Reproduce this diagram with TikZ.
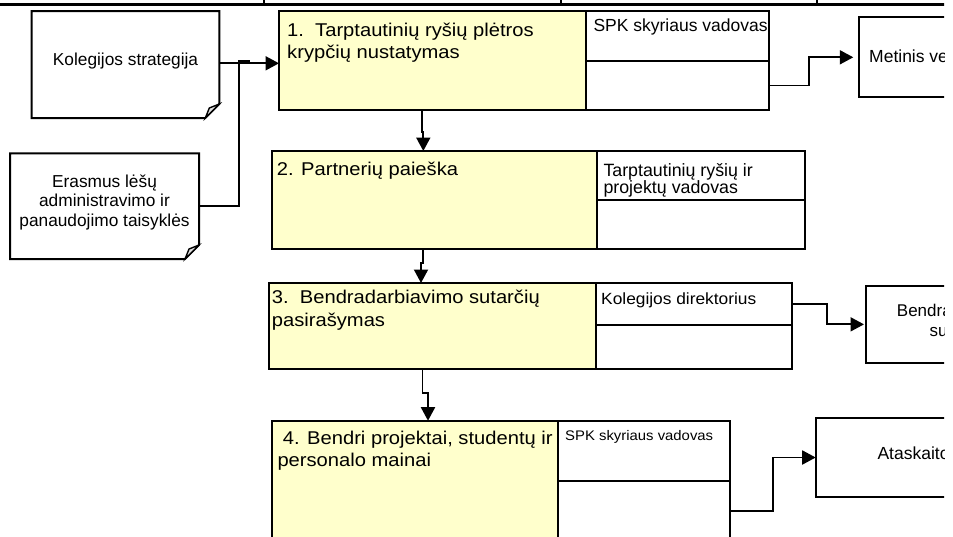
\documentclass[tikz,border=0pt]{standalone}
\usepackage{fontspec}
\setmainfont{Liberation Sans}
\newfontfamily\stretchfont[FakeStretch=1.09]{Liberation Sans}
\newfontfamily\rolefont[FakeStretch=1.07]{Liberation Sans}
\usetikzlibrary{arrows.meta}
\definecolor{boxyellow}{RGB}{255,255,204}
\begin{document}
\begin{tikzpicture}[x=1pt,y=-1pt,
  doctxt/.style={font=\fontsize{17.3}{19.25}\selectfont, inner sep=0, anchor=base},
  ttl/.style={font=\stretchfont\fontsize{18.5}{22.5}\selectfont, inner sep=0, anchor=base west},
  role/.style={font=\fontsize{17.5}{17}\selectfont, inner sep=0, anchor=base west},
  shp/.style={inner sep=0, outer sep=0, anchor=north west},
  box/.style={shp, draw, line width=2pt, fill=white},
  ybox/.style={box, fill=boxyellow},
  docline/.style={line width=2pt, line join=miter},
  conn/.style={line width=1.9pt},
  arr/.style={conn, -{Triangle[length=13.5pt,width=14pt]}}]
\useasboundingbox (0,0) rectangle (953,536);
\begin{scope}
\clip (0,0) rectangle (944,536);
% top rule
\draw[line width=2.8pt] (0,4.7) -- (953,4.7);
\draw[line width=2pt] (264.3,0) -- (264.3,4.7) (560.5,0) -- (560.5,4.7) (817,0) -- (817,4.7);

% input documents
\node[shp, minimum width=187.6pt, minimum height=107pt] (ks) at (31.7,11) {};
\node[shp, minimum width=189pt, minimum height=105.7pt] (er) at (10,153.3) {};
\foreach \d in {ks,er}{
  \draw[docline] (\d.north west) -- (\d.north east) -- ([yshift=14pt]\d.south east)
    -- ([xshift=-14pt]\d.south east) -- (\d.south west) -- cycle;
  \filldraw[line width=1.4pt, fill=gray!25] ([xshift=-14pt]\d.south east)
    -- ([xshift=-10pt,yshift=10pt]\d.south east) -- ([yshift=14pt]\d.south east) -- cycle;
}
\node[doctxt] (kst) at (125.5,65) {Kolegijos strategija};
\node[doctxt] (era) at (104.5,187.5) {Erasmus lėšų};
\node[doctxt] (erb) at (104.5,206.5) {administravimo ir};
\node[doctxt] (erc) at (104.5,226) {panaudojimo taisyklės};

% process boxes
\node[ybox, minimum width=307pt, minimum height=99pt] (b1) at (279,11) {};
\node[box, minimum width=183pt, minimum height=50pt] (r1a) at (586,11) {};
\node[box, minimum width=183pt, minimum height=49pt] (r1b) at (586,61) {};

\node[ybox, minimum width=325.6pt, minimum height=97.5pt] (b2) at (271.7,151) {};
\node[box, minimum width=207.7pt, minimum height=49pt] (r2a) at (597.3,151) {};
\node[box, minimum width=207.7pt, minimum height=48.5pt] (r2b) at (597.3,200) {};

\node[ybox, minimum width=327.5pt, minimum height=86pt] (b3) at (268.5,283) {};
\node[box, minimum width=195.7pt, minimum height=42.3pt] (r3a) at (596,283) {};
\node[box, minimum width=195.7pt, minimum height=43.7pt] (r3b) at (596,325.3) {};

\node[ybox, minimum width=286pt, minimum height=120pt] (b4) at (271.7,420.7) {};
\node[box, minimum width=172.3pt, minimum height=60pt] (r4a) at (557.7,420.7) {};
\node[box, minimum width=172.3pt, minimum height=60pt] (r4b) at (557.7,480.7) {};

% output documents
\node[box, minimum width=140pt, minimum height=80pt] (met) at (859.3,17.3) {};
\node[box, minimum width=140pt, minimum height=76.7pt] (ben) at (865.7,286) {};
\node[box, minimum width=190pt, minimum height=78.4pt] (ata) at (815.7,418.3) {};

% titles
\node[ttl] (t1a) at (287,36) {1.\ \ Tarptautinių ryšių plėtros};
\node[ttl] (t1b) at (287,58.3) {krypčių nustatymas};
\node[ttl] (t2a) at (276.7,175) {2. Partnerių paieška};
\node[ttl] (t3a) at (271.7,303.3) {3.\ \ Bendradarbiavimo sutarčių};
\node[ttl] (t3b) at (271.7,326) {pasirašymas};
\node[ttl] (t4a) at (282.7,444) {4. Bendri projektai, studentų ir};
\node[ttl] (t4b) at (277.3,466.7) {personalo mainai};

% roles
\node[role] (p1) at (593.3,31.7) {SPK skyriaus vadovas};
\node[role, font=\fontsize{17.8}{17}\selectfont] (p2a) at (603.3,176.7) {Tarptautinių ryšių ir};
\node[role, font=\fontsize{17.8}{17}\selectfont] (p2b) at (603.3,193.3) {projektų vadovas};
\node[role, font=\rolefont\fontsize{16.2}{17}\selectfont] (p3) at (601,304.3) {Kolegijos direktorius};
\node[role, font=\rolefont\fontsize{13.9}{15}\selectfont] (p4) at (565,440.7) {SPK skyriaus vadovas};

% output texts
\node[role] (mett) at (869,62.7) {Metinis veiklos planas};
\node[role, font=\fontsize{17}{17}\selectfont] (bena) at (896.7,316.7) {Bendradarbiavimo};
\node[role, font=\fontsize{17}{17}\selectfont] (benb) at (929.5,336.7) {sutartys};
\node[role] (atat) at (877.3,459.3) {Ataskaitos};

% connectors
\draw[arr] ([yshift=1.2pt]ks.east) -- ([yshift=1.2pt]ks.east -| b1.west);
\draw[conn] (er.east) -| ([xshift=19.7pt,yshift=3.8pt]ks.east) -- ++(10.3,0) -- ++(0,2.6);
\draw[arr] ([xshift=-10.8pt]b1.south) -- ++(0,21.7) -- ++(1.6,0) -- ([xshift=-11.2pt]b2.north);
\draw[arr] ([xshift=-11.5pt]b2.south) -- ++(0,14.5) -- ++(-2,0) -- ([xshift=-11.25pt]b3.north);
\draw[arr] ([xshift=-9.75pt]b3.south) -- ++(0,24.3) -| ([xshift=13.3pt]b4.north);
\draw[arr, shorten >=6pt] (r1b.east) -- ++(40,0) |- (met.west);
\draw[arr, shorten >=1.7pt] (r3a.east) -- ++(35,0) |- (ben.west);
\draw[arr] (r4b.east) -- ++(42.6,0) |- (ata.west);
\end{scope}
\end{tikzpicture}
\end{document}
